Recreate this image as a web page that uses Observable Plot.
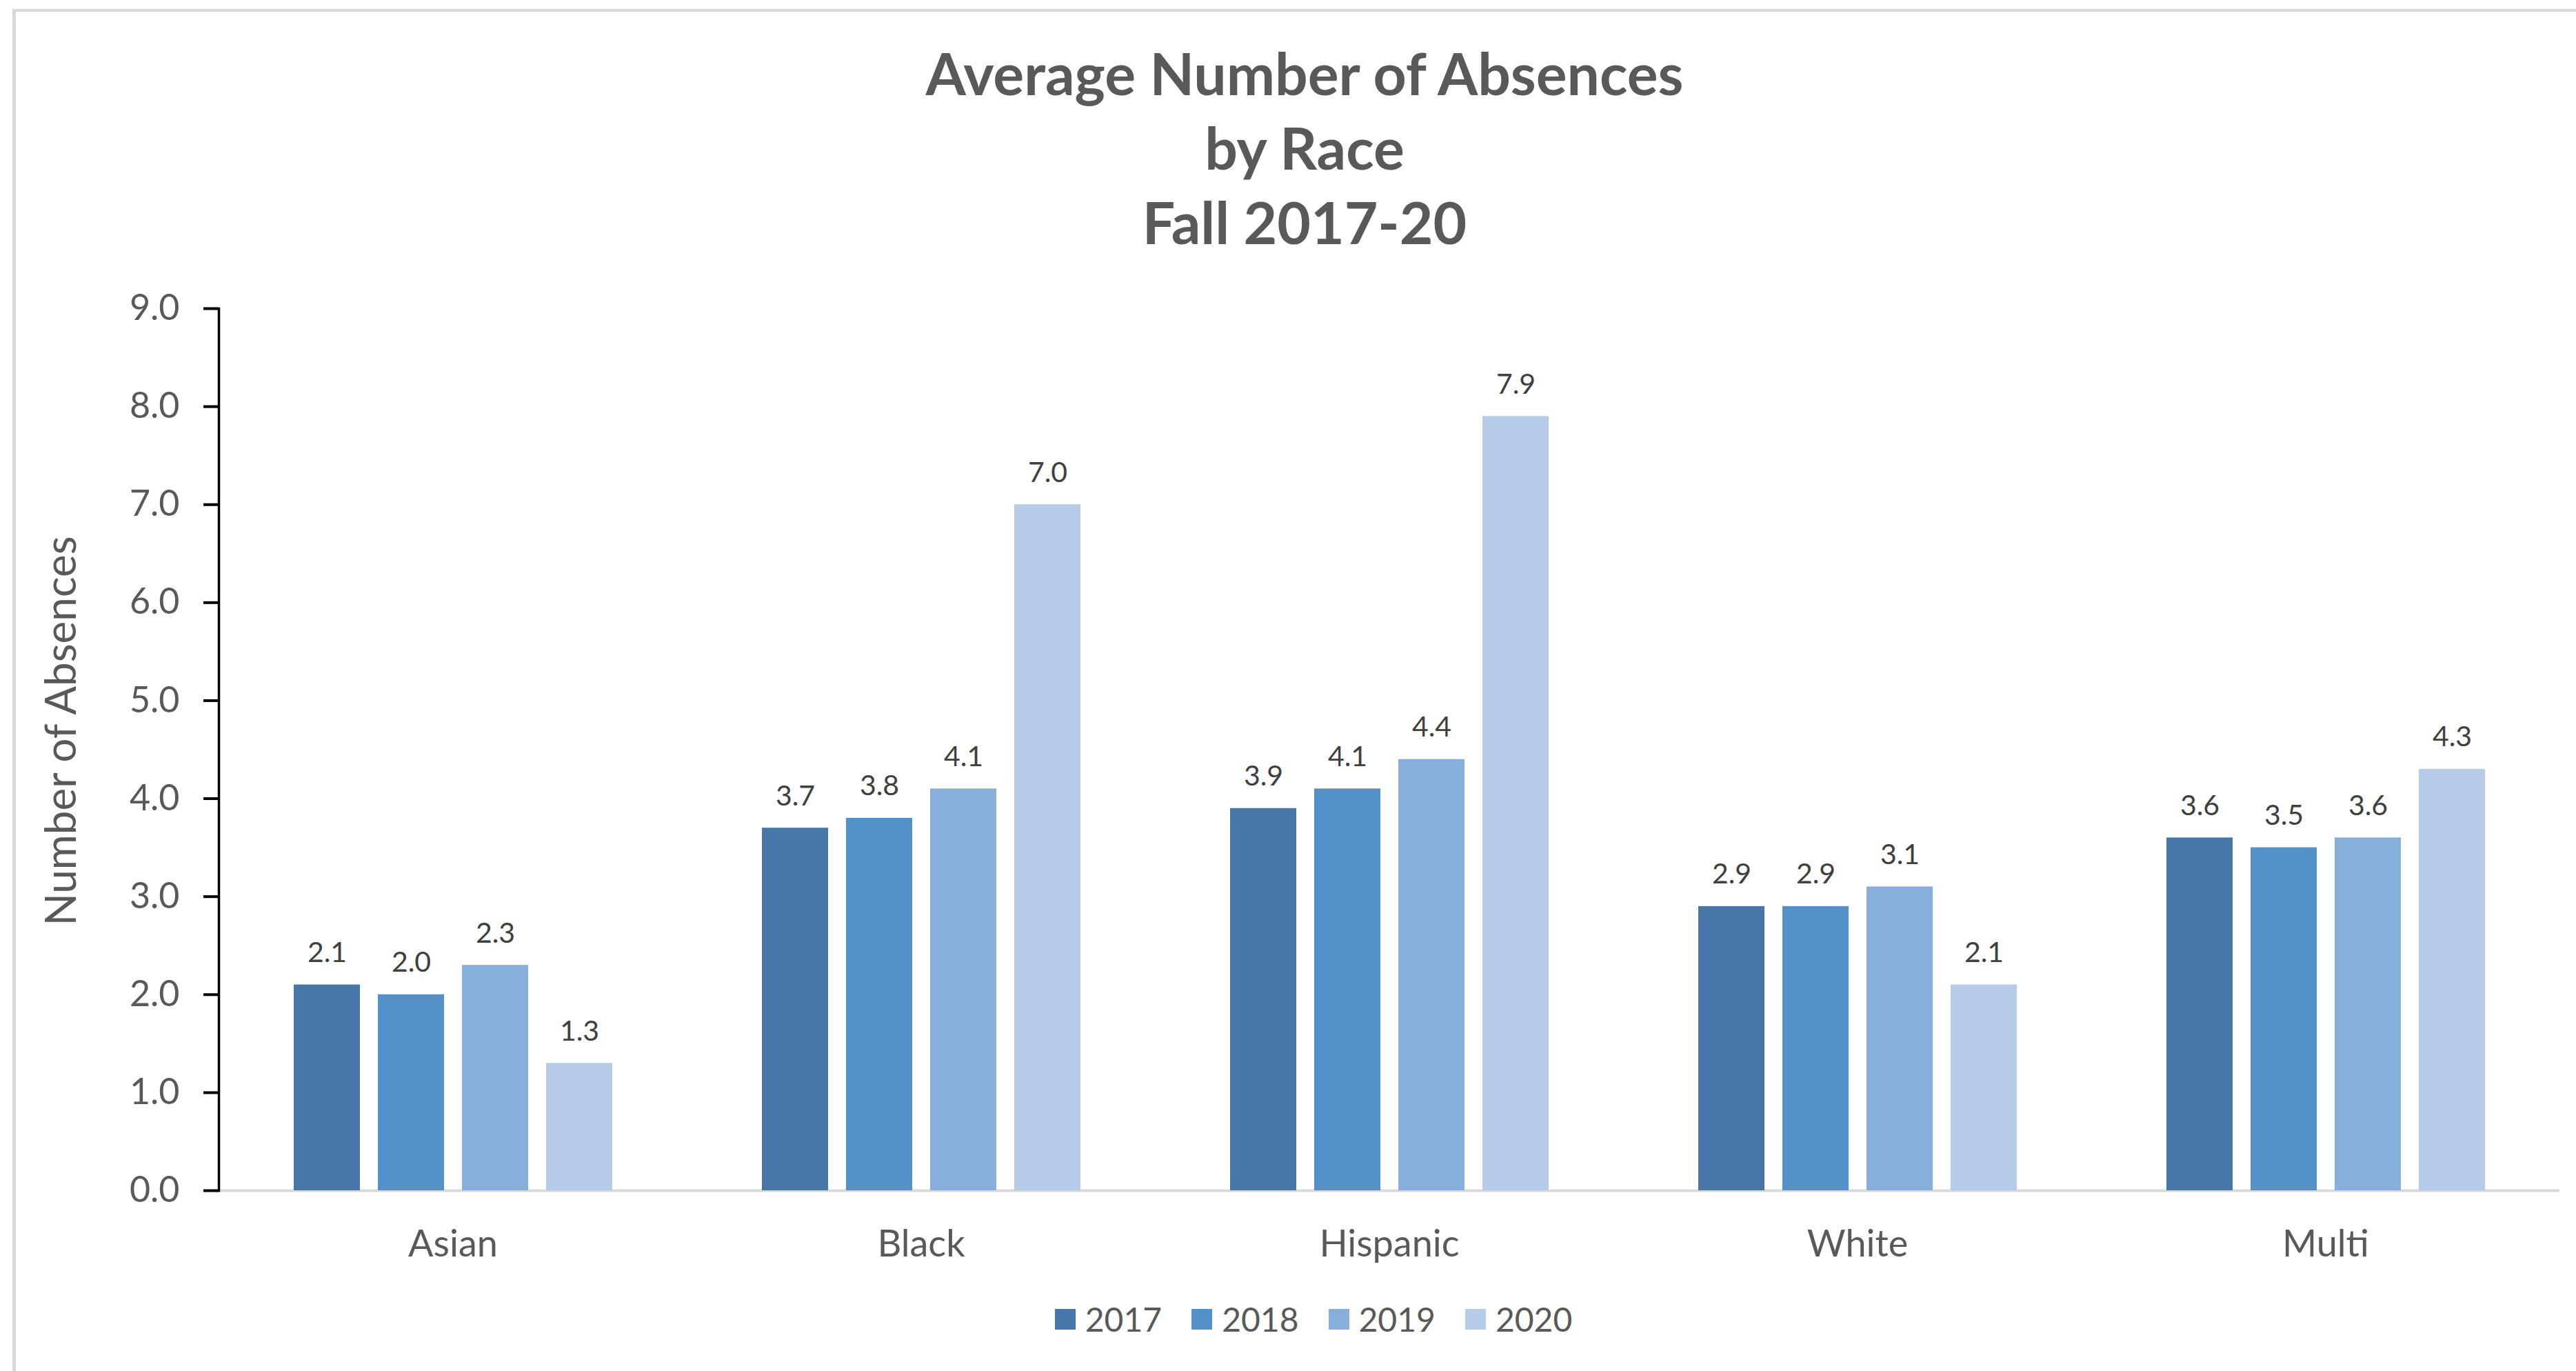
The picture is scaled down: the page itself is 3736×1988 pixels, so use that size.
<!DOCTYPE html>
<html>
<head>
<meta charset="utf-8">
<script src="https://cdn.jsdelivr.net/npm/d3@7"></script>
<script src="https://cdn.jsdelivr.net/npm/@observablehq/plot@0.6"></script>
<style>
  html, body { margin: 0; padding: 0; background: #fff; }
  #wrap { position: relative; width: 3736px; height: 1988px; overflow: hidden; background: #fff; font-family: Lato, "Open Sans", sans-serif; }
  #border { position: absolute; left: 18px; top: 13px; width: 4000px; height: 3000px; border-top: 4px solid #dadada; border-left: 5px solid #dadada; box-sizing: border-box; }
  #title { position: absolute; left: 892px; width: 2000px; top: 52px; text-align: center; font-family: Lato, sans-serif; font-weight: 700; font-size: 84px; line-height: 108px; color: #595959; }
  #ylabel { position: absolute; left: 86px; top: 1060px; transform: translate(-50%, -50%) rotate(-90deg); font-family: Lato, sans-serif; font-size: 62px; line-height: 62px; color: #595959; white-space: nowrap; }
  #chart { position: absolute; left: 0; top: 400px; }
  #legend { position: absolute; left: 0; width: 3810px; top: 1889px; }
  #legend .lg-swatches { display: flex; justify-content: center; align-items: center; min-height: 0; height: 48px; margin: 0; font-family: Lato, sans-serif; font-size: 48px; line-height: 48px; color: #595959; }
  #legend .lg-swatch { display: inline-flex; align-items: center; margin-right: 43px; }
  #legend .lg-swatch:last-child { margin-right: 0; }
  #legend .lg-swatch > svg { margin-right: 14px; }
</style>
</head>
<body>
<div id="wrap">
  <div id="border"></div>
  <div id="title">Average Number of Absences<br>by Race<br>Fall 2017-20</div>
  <div id="ylabel">Number of Absences</div>
  <div id="chart"></div>
  <div id="legend"></div>
</div>
<script>
const races = ["Asian", "Black", "Hispanic", "White", "Multi"];
const years = ["2017", "2018", "2019", "2020"];
const values2017 = [2.1, 3.7, 3.9, 2.9, 3.6];
const values2018 = [2.0, 3.8, 4.1, 2.9, 3.5];
const values2019 = [2.3, 4.1, 4.4, 3.1, 3.6];
const values2020 = [1.3, 7.0, 7.9, 2.1, 4.3];
const yTicks = [0, 1, 2, 3, 4, 5, 6, 7, 8, 9];
const yearColors = ["#4677A8", "#5591C9", "#87AFDC", "#B5CBE8"];

const series = [values2017, values2018, values2019, values2020];
const table = races.flatMap((race, i) =>
  years.map((year, j) => ({race, year, value: series[j][i]}))
);

const chart = Plot.plot({
  width: 3736,
  height: 1480,
  marginLeft: 315,
  marginRight: 23,
  marginTop: 47,
  marginBottom: 154,
  style: {fontFamily: "Lato, sans-serif", background: "transparent", overflow: "visible"},
  fx: {domain: races, padding: 0, label: null},
  x: {domain: years, paddingInner: 0.215, paddingOuter: 0.874, axis: null},
  y: {domain: [0, 9], label: null},
  color: {domain: years, range: yearColors},
  marks: [
    Plot.ruleY([0], {stroke: "#d9d9d9", strokeWidth: 4}),
    Plot.barY(table, {fx: "race", x: "year", y: "value", fill: "year"}),
    Plot.text(table, {
      fx: "race", x: "year", y: "value",
      text: d => d.value.toFixed(1),
      lineAnchor: "bottom", dy: -33,
      fontSize: 41, fill: "#404040"
    }),
    Plot.axisY({
      ticks: yTicks, tickFormat: d => d.toFixed(1),
      tickSize: 22, tickPadding: 35, fontSize: 52,
      fill: "#595959", stroke: "#000", strokeWidth: 4, label: null
    }),
    Plot.axisFx({
      anchor: "bottom", tickSize: 0, tickPadding: 57,
      fontSize: 54, fill: "#595959", label: null
    }),
    Plot.frame({anchor: "left", facetAnchor: "left", stroke: "#000", strokeWidth: 3.5})
  ]
});
document.getElementById("chart").appendChild(chart);

const legend = Plot.legend({
  color: {type: "ordinal", domain: years, range: yearColors},
  className: "lg",
  swatchWidth: 30,
  swatchHeight: 30
});
document.getElementById("legend").appendChild(legend);
</script>
</body>
</html>
